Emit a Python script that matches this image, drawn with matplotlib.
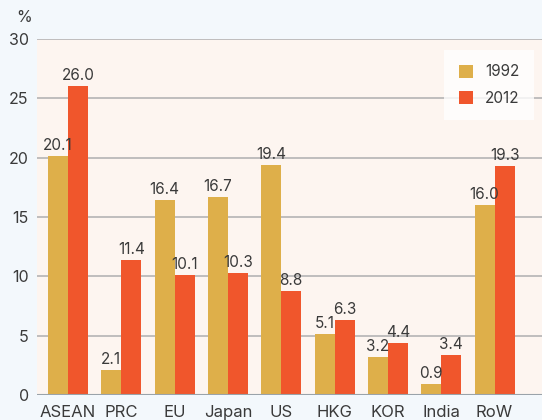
import numpy as np
import matplotlib
matplotlib.use("Agg")
import matplotlib.pyplot as plt

plt.rcParams['font.family'] = ['Inter', 'DejaVu Sans']

categories = ['ASEAN', 'PRC', 'EU', 'Japan', 'US', 'HKG', 'KOR', 'India', 'RoW']
v1992 = [20.1, 2.1, 16.4, 16.7, 19.4, 5.1, 3.2, 0.9, 16.0]
v2012 = [26.0, 11.4, 10.1, 10.3, 8.8, 6.3, 4.4, 3.4, 19.3]
yticks = [0, 5, 10, 15, 20, 25, 30]

c1992 = '#DEAF4A'
c2012 = '#F0562C'
txt = '#3A3A3A'

fig = plt.figure(figsize=(5.42, 4.2), dpi=100)
fig.patch.set_facecolor('#F3F8FC')
ax = fig.add_axes([0.0683, 0.0595, 0.9317, 0.848])
ax.set_facecolor('#FDF5F0')

x = np.arange(len(categories))
w = 0.375
b1 = ax.bar(x - w / 2, v1992, w, color=c1992, label='1992', zorder=3)
b2 = ax.bar(x + w / 2, v2012, w, color=c2012, label='2012', zorder=3)

for bars, vals in ((b1, v1992), (b2, v2012)):
    for r, v in zip(bars, vals):
        ax.text(r.get_x() + r.get_width() / 2, v + 0.25, f'{v:.1f}',
                ha='center', va='bottom', fontsize=11, color=txt, zorder=4)

ax.set_xlim(-0.58, 8.89)
ax.set_ylim(0, 30)
ax.set_yticks(yticks)
ax.yaxis.grid(True, color='#B4B4B4', linewidth=1.2, zorder=0)
ax.set_axisbelow(True)
for s in ax.spines.values():
    s.set_visible(False)
ax.axhline(0, color='#9AA3AA', linewidth=1.5, zorder=5)

ax.set_xticks(x)
ax.set_xticklabels(categories)
ax.tick_params(axis='both', length=0, colors=txt)
ax.tick_params(axis='x', pad=7, labelsize=12)
ax.tick_params(axis='y', pad=6, labelsize=11.5)
ax.text(-0.026, 1.059, '%', transform=ax.transAxes, ha='center', va='center',
        fontsize=11.5, color=txt)

leg = ax.legend(loc='upper right', bbox_to_anchor=(0.984, 0.969), frameon=True,
                fancybox=False, fontsize=11, handlelength=0.92, handleheight=0.92,
                handletextpad=0.8, labelspacing=0.75, borderpad=0.95,
                borderaxespad=0)
leg.get_frame().set_facecolor('white')
leg.get_frame().set_edgecolor('white')
leg.get_frame().set_linewidth(0)
for t in leg.get_texts():
    t.set_color(txt)

fig.savefig('out.png', dpi=100, facecolor=fig.get_facecolor())
